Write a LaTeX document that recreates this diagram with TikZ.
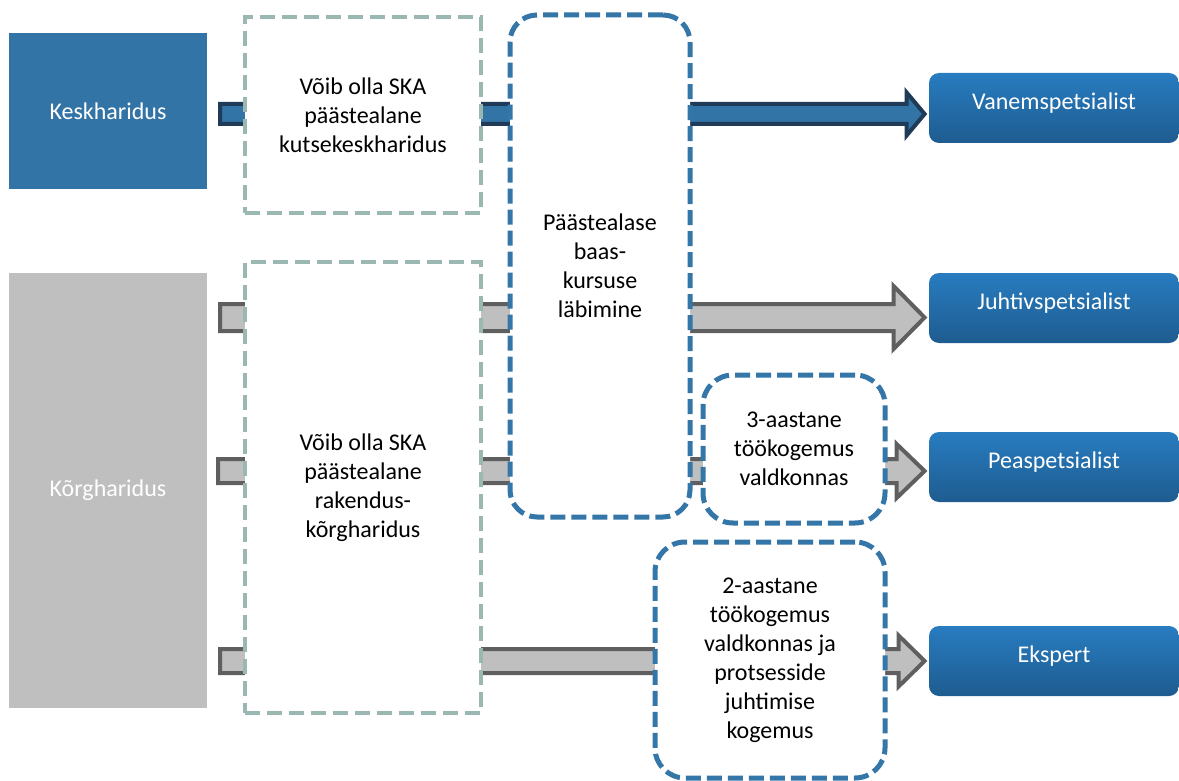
\documentclass[tikz,border=0pt]{standalone}
\usepackage{fontspec}
\setmainfont{Carlito}
\usetikzlibrary{calc,backgrounds}
\definecolor{keskblue}{RGB}{51,116,166}
\definecolor{navy}{RGB}{31,59,87}
\definecolor{korggray}{RGB}{191,191,191}
\definecolor{edgegray}{RGB}{95,95,95}
\definecolor{tealdash}{RGB}{155,183,178}
\definecolor{bluedash}{RGB}{52,118,168}
\definecolor{jobtop}{RGB}{40,124,192}
\definecolor{jobbot}{RGB}{30,92,144}
\tikzset
{
    srcbox/.style   = {rectangle, minimum width=99pt, align=center, text=white},
    skabox/.style   = {rectangle, draw=tealdash, fill=white, line width=2.4pt, dash pattern=on 7.5pt off 3.5pt, align=center, minimum width=118pt},
    condbox/.style  = {rectangle, draw=bluedash, fill=white, line width=2.5pt, dash pattern=on 7.5pt off 3pt, align=center},
    jobbox/.style   = {rectangle, rounded corners=5pt, top color=jobtop, bottom color=jobbot, text=white, minimum width=125pt, minimum height=35pt, text height=8.5pt, text depth=7pt},
    bluearrow/.style = {fill=keskblue, draw=navy, line width=2pt},
    grayarrow/.style = {fill=korggray, draw=edgegray, line width=2pt}
}
% block arrow: style, start, target, bar half, head half, head length
\newcommand{\blockarrow}[6]{%
  \draw[#1] let \p1=(#2), \p2=(#3) in
    (\x1,\y1+#4) -- (\x2-2pt-#6,\y1+#4) -- (\x2-2pt-#6,\y1+#5) -- (\x2-2pt,\y1)
    -- (\x2-2pt-#6,\y1-#5) -- (\x2-2pt-#6,\y1-#4) -- (\x1,\y1-#4) -- cycle;}

\begin{document}
\begin{tikzpicture}[x=0.5pt, y=-0.5pt, every node/.style={font=\fontsize{12}{14.5}\selectfont}]
\useasboundingbox (0,0) rectangle (1179,781);

\node (kesk)	[srcbox, fill=keskblue, minimum height=78pt] 	at (108,111)	{Keskharidus};
\node (korg)	[srcbox, fill=korggray, minimum height=217.5pt] at (108,490.5)	{Kõrgharidus};

\node (ska1)	[skabox, minimum height=98pt] 		at (363,115)	{Võib olla SKA\\päästealane\\kutsekeskharidus};
\node (ska2)	[skabox, minimum height=225.5pt] 	at (363,487.5)	{Võib olla SKA\\päästealane\\rakendus-\\kõrgharidus};

\node (baas)	[condbox, rounded corners=13.5pt, minimum width=90pt, minimum height=251pt]	at (600,266)	{Päästealase\\baas-\\kursuse\\läbimine};
\node (kogem3)	[condbox, rounded corners=15pt, minimum width=91pt, minimum height=74pt]	at (794,449)	{3-aastane\\töökogemus\\valdkonnas};
\node (kogem2)	[condbox, rounded corners=15pt, minimum width=115pt, minimum height=118pt]	at (770,660)	{2-aastane\\töökogemus\\valdkonnas ja\\protsesside\\juhtimise\\kogemus};

\node (vanem)	[jobbox] 	at (1054,108)	{Vanemspetsialist};
\node (juhtiv)	[jobbox] 	at (1054,308)	{Juhtivspetsialist};
\node (peas)	[jobbox] 	at (1054,467)	{Peaspetsialist};
\node (ekspert)	[jobbox] 	at (1054,661)	{Ekspert};

\coordinate (s1) at (220,114);
\coordinate (s2) at (220,317.5);
\coordinate (s3) at (218,471);
\coordinate (s4) at (220,661);

%% arrows behind the boxes
\begin{scope}[on background layer]
\blockarrow{bluearrow}{s1}{vanem.west}{5pt}{10.75pt}{9pt}
\blockarrow{grayarrow}{s2}{juhtiv.west}{6.75pt}{15.75pt}{15.5pt}
\blockarrow{grayarrow}{s3}{peas.west}{6pt}{13.5pt}{14pt}
\blockarrow{grayarrow}{s4}{ekspert.west}{6pt}{12.75pt}{13pt}
\end{scope}

\end{tikzpicture}
\end{document}
